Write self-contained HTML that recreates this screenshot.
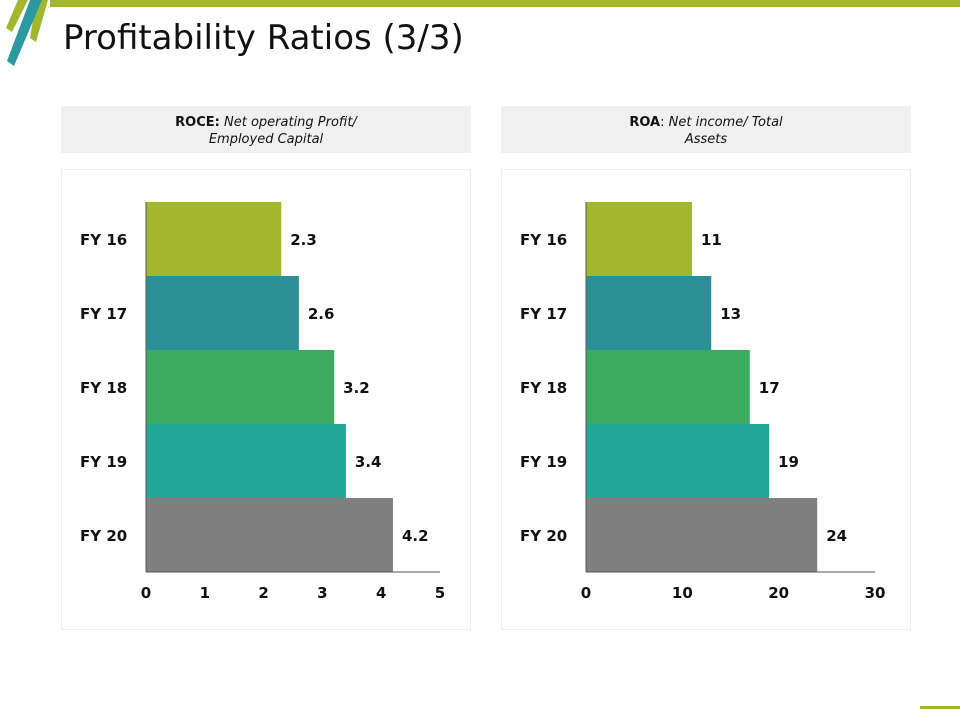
<!DOCTYPE html>
<html><head><meta charset="utf-8"><style>
body{margin:0;width:960px;height:720px;background:#fff;font-family:"Liberation Sans","DejaVu Sans",sans-serif;position:relative;overflow:hidden}
.hdr{position:absolute;top:106px;width:410px;height:47px;background:#f0f0f0;text-align:center;font-family:"DejaVu Sans",sans-serif;font-size:13px;line-height:17px;padding-top:8px;box-sizing:border-box;color:#111}
.frame{position:absolute;top:169px;width:410px;height:461px;border:1px solid #eee;box-sizing:border-box}
svg text{font-family:"DejaVu Sans",sans-serif;font-weight:bold;font-size:15px;fill:#111}
</style></head><body>
<div style="position:absolute;left:50px;top:0;width:910px;height:7px;background:#a3b72e"></div>
<svg style="position:absolute;left:0;top:0" width="60" height="70">
<polygon points="18,0 28,0 12,32 6,28" fill="#a3b72e"/>
<polygon points="36,0 48,0 36,42 30,38" fill="#a3b72e"/>
<polygon points="30,0 42,0 14,66 7,61" fill="#2a9aa0"/>
</svg>
<div style="position:absolute;left:63px;top:18px;font-size:34px;font-family:'DejaVu Sans',sans-serif;color:#111">Profitability Ratios (3/3)</div>
<div class="hdr" style="left:61px"><b>ROCE:</b> <i>Net operating Profit/<br>Employed Capital</i></div>
<div class="hdr" style="left:501px"><b>ROA</b>: <i>Net income/ Total<br>Assets</i></div>
<div class="frame" style="left:61px"></div>
<div class="frame" style="left:501px"></div>
<div style="position:absolute;left:920px;top:706px;width:40px;height:3px;background:#a3b72e"></div>
<svg id="chart" style="position:absolute;left:0;top:0" width="960" height="720"></svg>
<script>
const categories=["FY 16","FY 17","FY 18","FY 19","FY 20"];
const roceValues=[2.3,2.6,3.2,3.4,4.2];
const roaValues=[11,13,17,19,24];
const roceTicks=[0,1,2,3,4,5];
const roaTicks=[0,10,20,30];
const colors=["#a3b72e","#2b9096","#3caa5f","#22a696","#7f7f7f"];
const svg=document.getElementById('chart');
const NS='http://www.w3.org/2000/svg';
function mk(t,a){const e=document.createElementNS(NS,t);for(const k in a)e.setAttribute(k,a[k]);svg.appendChild(e);return e;}
function draw(name,x0,x1,maxV,vals,ticks,labelX){
  const xs=v=>x0+(x1-x0)*v/maxV;
  const top=202,band=74;
  const ys=i=>top+i*band;
  vals.forEach((v,i)=>{
    const r=mk('rect',{x:x0,y:ys(i),width:xs(v)-x0,height:band,fill:colors[i]});
    
    
    const t=mk('text',{x:xs(v)+9,y:ys(i)+band/2+6});t.textContent=v;
    
    
    const c=mk('text',{x:labelX,y:ys(i)+band/2+6});c.textContent=categories[i];
    
    
  });
  const ax=mk('line',{x1:x0,x2:x1,y1:ys(5),y2:ys(5),stroke:'#555','stroke-width':1});
  
  
  const ay=mk('line',{x1:x0,x2:x0,y1:top,y2:ys(5),stroke:'#555','stroke-width':1});
  
  
  ticks.forEach(v=>{
    const t=mk('text',{x:xs(v),y:598,'text-anchor':'middle'});t.textContent=v;
    
    
  });
}
draw('roce',146,440,5,roceValues,roceTicks,80);
draw('roa',586,875,30,roaValues,roaTicks,520);
</script>
</body></html>
